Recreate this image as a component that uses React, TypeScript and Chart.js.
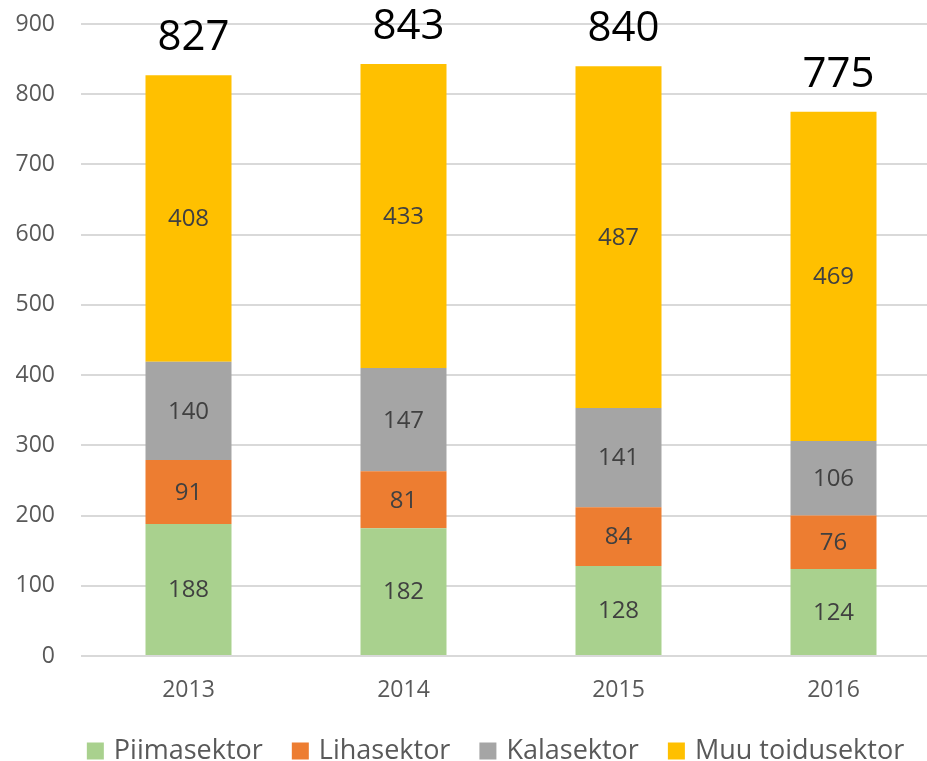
import React, { useEffect, useRef } from "react";
import { Chart, registerables } from "chart.js";

Chart.register(...registerables);

const years = ["2013", "2014", "2015", "2016"];
const seriesNames = ["Piimasektor", "Lihasektor", "Kalasektor", "Muu toidusektor"];
const seriesColors = ["#A9D18E", "#ED7D31", "#A5A5A5", "#FFC000"];
const piimasektor = [188, 182, 128, 124];
const lihasektor = [91, 81, 84, 76];
const kalasektor = [140, 147, 141, 106];
const muuToidusektor = [408, 433, 487, 469];
const yTicks = [0, 100, 200, 300, 400, 500, 600, 700, 800, 900];

const FONT = "'Open Sans', 'DejaVu Sans', sans-serif";

export default function App() {
  const ref = useRef<HTMLCanvasElement | null>(null);

  useEffect(() => {
    if (!ref.current) return;
    const seriesValues = [piimasektor, lihasektor, kalasektor, muuToidusektor];
    const totals = years.map((_, i) => seriesValues.reduce((s, arr) => s + arr[i], 0));

    const labelPlugin = {
      id: "labels",
      afterDatasetsDraw(chart: any) {
        const ctx = chart.ctx;
        ctx.save();
        ctx.textAlign = "center";
        ctx.textBaseline = "middle";
        ctx.font = `24px ${FONT}`;
        ctx.fillStyle = "#404040";
        chart.data.datasets.forEach((ds: any, di: number) => {
          const meta = chart.getDatasetMeta(di);
          meta.data.forEach((bar: any, i: number) => {
            const y = (bar.y + bar.base) / 2;
            ctx.fillText(String(ds.data[i]), bar.x, y + 1);
          });
        });
        // totals
        const lastMeta = chart.getDatasetMeta(chart.data.datasets.length - 1);
        ctx.font = `42px ${FONT}`;
        ctx.fillStyle = "#000000";
        lastMeta.data.forEach((bar: any, i: number) => {
          ctx.fillText(String(totals[i]), bar.x + 5, bar.y - 37);
        });
        ctx.restore();
      },
    };

    const legendPlugin = {
      id: "customLegend",
      afterDraw(chart: any) {
        const ctx = chart.ctx;
        ctx.save();
        ctx.font = `27px ${FONT}`;
        ctx.textBaseline = "middle";
        ctx.textAlign = "left";
        const box = 17;
        const gapBoxText = 10;
        const gapItems = 29;
        const widths = chart.data.datasets.map((ds: any) => ctx.measureText(ds.label).width);
        const total =
          widths.reduce((s: number, w: number) => s + box + gapBoxText + w, 0) +
          gapItems * (widths.length - 1);
        let x = 495.5 - total / 2;
        const y = 751;
        chart.data.datasets.forEach((ds: any, i: number) => {
          ctx.fillStyle = ds.backgroundColor;
          ctx.fillRect(x, y - box / 2, box, box);
          x += box + gapBoxText;
          ctx.fillStyle = "#595959";
          ctx.fillText(ds.label, x, y);
          x += widths[i] + gapItems;
        });
        ctx.restore();
      },
    };

    const chart = new Chart(ref.current, {
      type: "bar",
      data: {
        labels: years,
        datasets: seriesNames.map((name, i) => ({
          label: name,
          data: seriesValues[i],
          backgroundColor: seriesColors[i],
          borderWidth: 0,
          barPercentage: 0.4,
          categoryPercentage: 1,
        })),
      },
      options: {
        animation: false,
        responsive: false,
        maintainAspectRatio: false,
        layout: { padding: { top: 24, right: 4, left: 0, bottom: 74 } },
        plugins: {
          legend: { display: false },
          tooltip: { enabled: false },
        },
        scales: {
          x: {
            stacked: true,
            grid: { display: false, drawTicks: false },
            border: { display: false },
            ticks: {
              padding: 21,
              color: "#595959",
              font: { family: FONT, size: 23 },
            },
            afterFit: (scale: any) => {
              scale.height = 50;
              scale.paddingLeft = 0;
              scale.paddingRight = 0;
            },
          },
          y: {
            stacked: true,
            min: 0,
            max: 900,
            afterBuildTicks: (scale: any) => {
              scale.ticks = yTicks.map((v) => ({ value: v }));
            },
            grid: { color: "#D9D9D9", lineWidth: 2, drawTicks: false },
            border: { display: false },
            ticks: {
              padding: 26,
              color: "#595959",
              font: { family: FONT, size: 23 },
            },
            afterFit: (scale: any) => {
              scale.width = 81;
              scale.paddingTop = 0;
              scale.paddingBottom = 0;
            },
          },
        },
      },
      plugins: [labelPlugin, legendPlugin],
    });
    return () => chart.destroy();
  }, []);

  return (
    <div
      style={{
        position: "fixed",
        left: 0,
        top: 0,
        width: 927,
        height: 761,
        overflow: "hidden",
        background: "#ffffff",
      }}
    >
      <canvas ref={ref} width={945} height={780} style={{ display: "block", width: 945, height: 780 }} />
    </div>
  );
}
